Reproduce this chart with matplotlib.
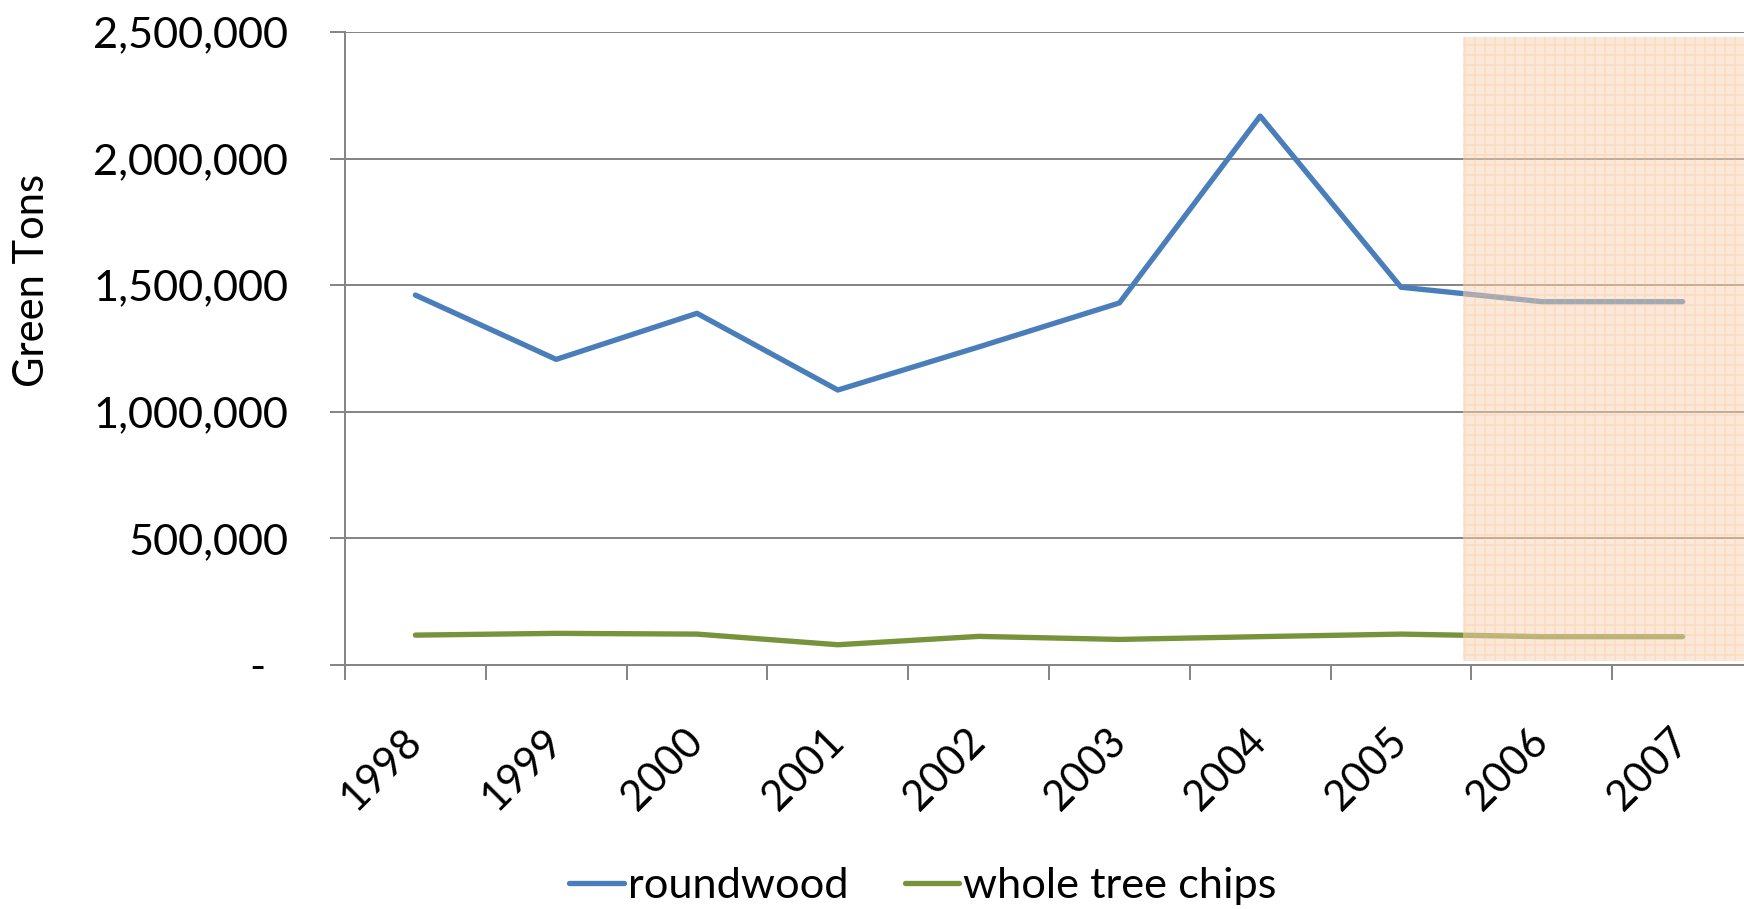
import matplotlib
matplotlib.use("Agg")
import matplotlib.pyplot as plt
from matplotlib.patches import Rectangle
from matplotlib.ticker import FuncFormatter, FixedLocator

# Annual harvest, green tons
years = ["1998", "1999", "2000", "2001", "2002", "2003", "2004", "2005", "2006", "2007"]
roundwood = [1461000, 1207000, 1389000, 1086000, 1256000, 1430000, 2168000, 1492000, 1435000, 1435000]
whole_tree_chips = [118000, 125000, 122000, 80000, 113000, 101000, 112000, 122000, 112000, 112000]

# shaded block marks the projected years
proj_start = 7.44
proj_top = 2480000
proj_bottom = 16000

plt.rcParams["font.family"] = ["Lato", "DejaVu Sans"]
plt.rcParams["hatch.linewidth"] = 1.0

DPI = 120
fig = plt.figure(figsize=(1744 / DPI, 909 / DPI), dpi=DPI)
ax = fig.add_axes([345 / 1744, 1 - 665 / 909, 1408 / 1744, 633 / 909])

grey = "#868686"
x = list(range(len(years)))

ax.plot(x, roundwood, color="#4a7ebb", lw=3.2, solid_capstyle="round",
        solid_joinstyle="round", label="roundwood", zorder=3)
ax.plot(x, whole_tree_chips, color="#77933c", lw=3.2, solid_capstyle="round",
        solid_joinstyle="round", label="whole tree chips", zorder=3)

shade = Rectangle((proj_start, proj_bottom), 9.8 - proj_start, proj_top - proj_bottom,
                  facecolor=(0.976, 0.827, 0.702, 0.5),
                  edgecolor=(0.97, 0.72, 0.50, 0.25),
                  hatch="++", linewidth=0, zorder=5, clip_on=False)
ax.add_patch(shade)

ax.set_xlim(-0.5, 9.5)
ax.set_ylim(0, 2500000)

# y axis: accounting-style labels, dash for zero
ax.set_yticks([0, 500000, 1000000, 1500000, 2000000, 2500000])
ax.yaxis.set_major_formatter(FuncFormatter(
    lambda v, p: "-  " if v == 0 else f"{v:,.0f}"))
ax.tick_params(axis="y", length=9, width=1.2, color=grey, pad=25,
               labelsize=26, labelcolor="black")
ax.grid(axis="y", color=grey, lw=1.2, zorder=1)

# x axis: labels at category centres, tick marks on boundaries
ax.set_xticks(x)
ax.set_xticklabels(years)
ax.xaxis.set_minor_locator(FixedLocator([i - 0.5 for i in range(len(years) + 1)]))
ax.tick_params(axis="x", which="major", length=0, pad=42, labelsize=25)
ax.tick_params(axis="x", which="minor", length=9, width=1.2, color=grey)
plt.setp(ax.get_xticklabels(), rotation=45, ha="right", va="center",
         rotation_mode="anchor")

for side in ["top", "right"]:
    ax.spines[side].set_visible(False)
for side in ["left", "bottom"]:
    ax.spines[side].set_color(grey)
    ax.spines[side].set_linewidth(1.2)

fig.text(32 / 1744, 1 - 280 / 909, "Green Tons", rotation=90, fontsize=25,
         ha="center", va="center")

fig.legend(loc="center", bbox_to_anchor=(923 / 1744, 1 - 886 / 909), ncol=2,
           frameon=False, fontsize=26, handlelength=1.25, handletextpad=0.1,
           columnspacing=1.3)

fig.savefig("out.png", dpi=DPI)
